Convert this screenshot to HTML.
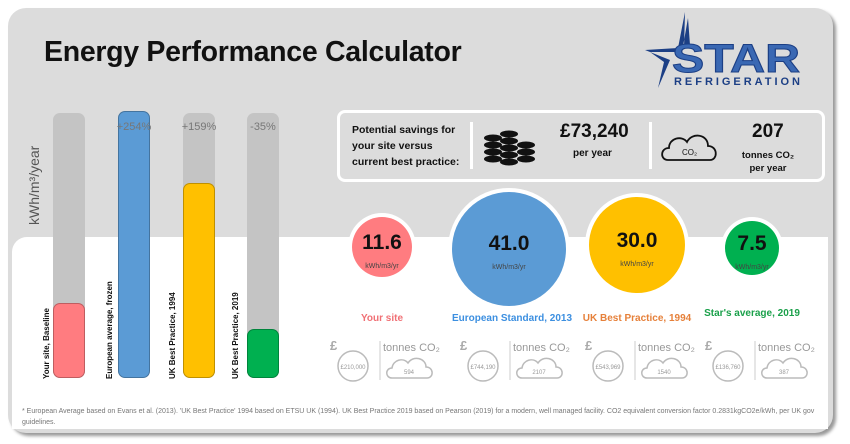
<!DOCTYPE html>
<html><head><meta charset="utf-8"><style>
body{margin:0;width:850px;height:444px;background:#fff;font-family:"Liberation Sans",sans-serif;position:relative;overflow:hidden}
.a{position:absolute}
.panel{left:8px;top:8px;width:825px;height:425px;background:#dcdcdc;border-radius:18px;box-shadow:3px 3px 3px #999}
.white{left:12px;top:237px;width:816px;height:192px;background:#fff;border-radius:15px 0 0 0}
.bar{position:absolute;width:32px;border-radius:7px;background:#c4c4c4}
.fill{position:absolute;width:32px;border-radius:7px;border:1px solid rgba(0,0,0,.25);box-sizing:border-box}
.pct{position:absolute;width:40px;text-align:center;font-size:11px;color:#777;top:121px}
.rl{position:absolute;transform-origin:0 0;transform:rotate(-90deg);font-size:8px;font-weight:bold;white-space:nowrap;color:#111}
.circ{position:absolute;border-radius:50%;box-shadow:0 0 0 4px #fff;text-align:center}
.circ b{display:block;font-size:21px;color:#111}
.circ span{font-size:7px;color:#444}
.lbl{position:absolute;font-size:10px;font-weight:bold;text-align:center;width:160px}
.gp{position:absolute;top:336px;width:125px;height:45px;color:#aaa}
</style></head><body>
<div class="a panel"></div>
<div class="a white"></div>
<div class="a" style="left:44px;top:36px;font-size:28.5px;font-weight:bold;color:#111;letter-spacing:-0.3px">Energy Performance Calculator</div>
<!-- logo -->
<svg class="a" style="left:640px;top:10px" width="170" height="80">
<polygon points="45,2 38,38 5,40 30,50 18,78 24,52 10,42 42,42 48,8 50,35 60,38 44,38" fill="#1c3f85"/>
<text x="32" y="62" font-family="Liberation Sans" font-weight="bold" font-size="40" fill="#3a68b3" stroke="#1c3f85" stroke-width="1" textLength="128" lengthAdjust="spacingAndGlyphs">STAR</text>
<text x="34" y="75" font-family="Liberation Sans" font-weight="bold" font-size="11" fill="#1c3f85" textLength="126" lengthAdjust="spacing">REFRIGERATION</text>
</svg>
<!-- y axis -->
<div class="rl" style="left:26px;top:225px;font-size:14px;font-weight:normal;color:#555">kWh/m³/year</div>
<div class="bar" style="left:53px;top:113px;height:265px"></div>
<div class="fill" style="left:53px;top:303px;height:75px;background:#ff7c80"></div>
<div class="fill" style="left:118px;top:111px;height:267px;background:#5b9bd5"></div>
<div class="bar" style="left:183px;top:113px;height:265px"></div>
<div class="fill" style="left:183px;top:183px;height:195px;background:#ffc000"></div>
<div class="bar" style="left:247px;top:113px;height:265px"></div>
<div class="fill" style="left:247px;top:329px;height:49px;background:#00b050"></div>
<div class="pct" style="left:114px">+254%</div>
<div class="pct" style="left:179px">+159%</div>
<div class="pct" style="left:243px">-35%</div>
<div class="rl" style="left:42px;top:379px">Your site, Baseline</div>
<div class="rl" style="left:105px;top:379px">European average, frozen</div>
<div class="rl" style="left:168px;top:379px">UK Best Practice, 1994</div>
<div class="rl" style="left:231px;top:379px">UK Best Practice, 2019</div>
<!-- savings box -->
<div class="a" style="left:337px;top:110px;width:482px;height:66px;border:3px solid #fff;border-radius:8px"></div>
<div class="a" style="left:352px;top:122px;font-size:10.5px;font-weight:bold;line-height:16px;color:#111">Potential savings for<br>your site versus<br>current best practice:</div>
<div class="a" style="left:470px;top:122px;width:3px;height:47px;background:#fff"></div>
<div class="a" style="left:649px;top:122px;width:3px;height:47px;background:#fff"></div>
<svg class="a" style="left:483px;top:130px" width="55" height="36">
<g fill="#111"><ellipse cx="10" cy="8" rx="9" ry="3.5"/><ellipse cx="10" cy="15" rx="9" ry="3.5"/><ellipse cx="10" cy="22" rx="9" ry="3.5"/><ellipse cx="10" cy="29" rx="9" ry="3.5"/>
<ellipse cx="26" cy="4" rx="9" ry="3.5"/><ellipse cx="26" cy="11" rx="9" ry="3.5"/><ellipse cx="26" cy="18" rx="9" ry="3.5"/><ellipse cx="26" cy="25" rx="9" ry="3.5"/><ellipse cx="26" cy="32" rx="9" ry="3.5"/>
<ellipse cx="43" cy="15" rx="9" ry="3.5"/><ellipse cx="43" cy="22" rx="9" ry="3.5"/><ellipse cx="43" cy="29" rx="9" ry="3.5"/></g></svg>
<div class="a" style="left:560px;top:121px;font-size:19px;font-weight:bold;color:#111">£73,240</div>
<div class="a" style="left:573px;top:148px;font-size:10px;font-weight:bold;color:#111">per year</div>
<svg class="a" style="left:660px;top:130px" width="60" height="34"><path d="M8,30 C0,30 0,18 9,18 C9,8 22,5 27,12 C32,2 48,4 48,16 C58,16 58,30 50,30 Z" fill="none" stroke="#111" stroke-width="1.8"/><text x="22" y="25" font-size="8" font-family="Liberation Sans" fill="#111">CO₂</text></svg>
<div class="a" style="left:752px;top:121px;font-size:19px;font-weight:bold;color:#111">207</div>
<div class="a" style="left:733px;top:149px;width:70px;text-align:center;font-size:9.5px;font-weight:bold;line-height:13px;color:#111">tonnes CO₂<br>per year</div>
<!-- circles -->
<div class="circ" style="left:352px;top:217px;width:60px;height:60px;background:#ff7c80"><b style="margin-top:14px">11.6</b><span>kWh/m3/yr</span></div>
<div class="circ" style="left:452px;top:192px;width:114px;height:114px;background:#5b9bd5"><b style="margin-top:40px">41.0</b><span>kWh/m3/yr</span></div>
<div class="circ" style="left:589px;top:197px;width:96px;height:96px;background:#ffc000"><b style="margin-top:32px">30.0</b><span>kWh/m3/yr</span></div>
<div class="circ" style="left:725px;top:221px;width:54px;height:54px;background:#00b050"><b style="margin-top:11px">7.5</b><span>kWh/m3/yr</span></div>
<div class="lbl" style="left:302px;top:313px;color:#f07075">Your site</div>
<div class="lbl" style="left:432px;top:313px;color:#3c8fe0">European Standard, 2013</div>
<div class="lbl" style="left:557px;top:313px;color:#e6803a">UK Best Practice, 1994</div>
<div class="lbl" style="left:672px;top:308px;color:#1aa04a">Star's average, 2019</div>
<!-- bottom groups -->
<div class="gp" style="left:330px"><svg width="125" height="48"><text x="0" y="14" font-size="13" font-weight="bold" font-family="Liberation Sans" fill="#aaa">£</text><circle cx="23" cy="30" r="15" fill="none" stroke="#bbb" stroke-width="1.5"/><text x="23" y="33" font-size="6" text-anchor="middle" font-family="Liberation Sans" fill="#999">£210,000</text><line x1="50" y1="5" x2="50" y2="44" stroke="#ccc"/><text x="53" y="15" font-size="11" font-family="Liberation Sans" fill="#999">tonnes CO₂</text><path d="M62,42 C55,42 55,32 62,32 C63,24 73,21 78,27 C83,19 96,22 96,31 C104,31 104,42 97,42 Z" fill="none" stroke="#bbb" stroke-width="1.5"/><text x="79" y="38" font-size="6" text-anchor="middle" font-family="Liberation Sans" fill="#999">594</text></svg></div>
<div class="gp" style="left:460px"><svg width="125" height="48"><text x="0" y="14" font-size="13" font-weight="bold" font-family="Liberation Sans" fill="#aaa">£</text><circle cx="23" cy="30" r="15" fill="none" stroke="#bbb" stroke-width="1.5"/><text x="23" y="33" font-size="6" text-anchor="middle" font-family="Liberation Sans" fill="#999">£744,190</text><line x1="50" y1="5" x2="50" y2="44" stroke="#ccc"/><text x="53" y="15" font-size="11" font-family="Liberation Sans" fill="#999">tonnes CO₂</text><path d="M62,42 C55,42 55,32 62,32 C63,24 73,21 78,27 C83,19 96,22 96,31 C104,31 104,42 97,42 Z" fill="none" stroke="#bbb" stroke-width="1.5"/><text x="79" y="38" font-size="6" text-anchor="middle" font-family="Liberation Sans" fill="#999">2107</text></svg></div>
<div class="gp" style="left:585px"><svg width="125" height="48"><text x="0" y="14" font-size="13" font-weight="bold" font-family="Liberation Sans" fill="#aaa">£</text><circle cx="23" cy="30" r="15" fill="none" stroke="#bbb" stroke-width="1.5"/><text x="23" y="33" font-size="6" text-anchor="middle" font-family="Liberation Sans" fill="#999">£543,969</text><line x1="50" y1="5" x2="50" y2="44" stroke="#ccc"/><text x="53" y="15" font-size="11" font-family="Liberation Sans" fill="#999">tonnes CO₂</text><path d="M62,42 C55,42 55,32 62,32 C63,24 73,21 78,27 C83,19 96,22 96,31 C104,31 104,42 97,42 Z" fill="none" stroke="#bbb" stroke-width="1.5"/><text x="79" y="38" font-size="6" text-anchor="middle" font-family="Liberation Sans" fill="#999">1540</text></svg></div>
<div class="gp" style="left:705px"><svg width="125" height="48"><text x="0" y="14" font-size="13" font-weight="bold" font-family="Liberation Sans" fill="#aaa">£</text><circle cx="23" cy="30" r="15" fill="none" stroke="#bbb" stroke-width="1.5"/><text x="23" y="33" font-size="6" text-anchor="middle" font-family="Liberation Sans" fill="#999">£136,760</text><line x1="50" y1="5" x2="50" y2="44" stroke="#ccc"/><text x="53" y="15" font-size="11" font-family="Liberation Sans" fill="#999">tonnes CO₂</text><path d="M62,42 C55,42 55,32 62,32 C63,24 73,21 78,27 C83,19 96,22 96,31 C104,31 104,42 97,42 Z" fill="none" stroke="#bbb" stroke-width="1.5"/><text x="79" y="38" font-size="6" text-anchor="middle" font-family="Liberation Sans" fill="#999">387</text></svg></div>
<div class="a" style="left:22px;top:406px;width:800px;font-size:7px;line-height:11px;color:#777">* European Average based on Evans et al. (2013). 'UK Best Practice' 1994 based on ETSU UK (1994). UK Best Practice 2019 based on Pearson (2019) for a modern,  well managed facility.  CO2 equivalent conversion factor 0.2831kgCO2e/kWh, per UK gov guidelines.</div>
</body></html>
